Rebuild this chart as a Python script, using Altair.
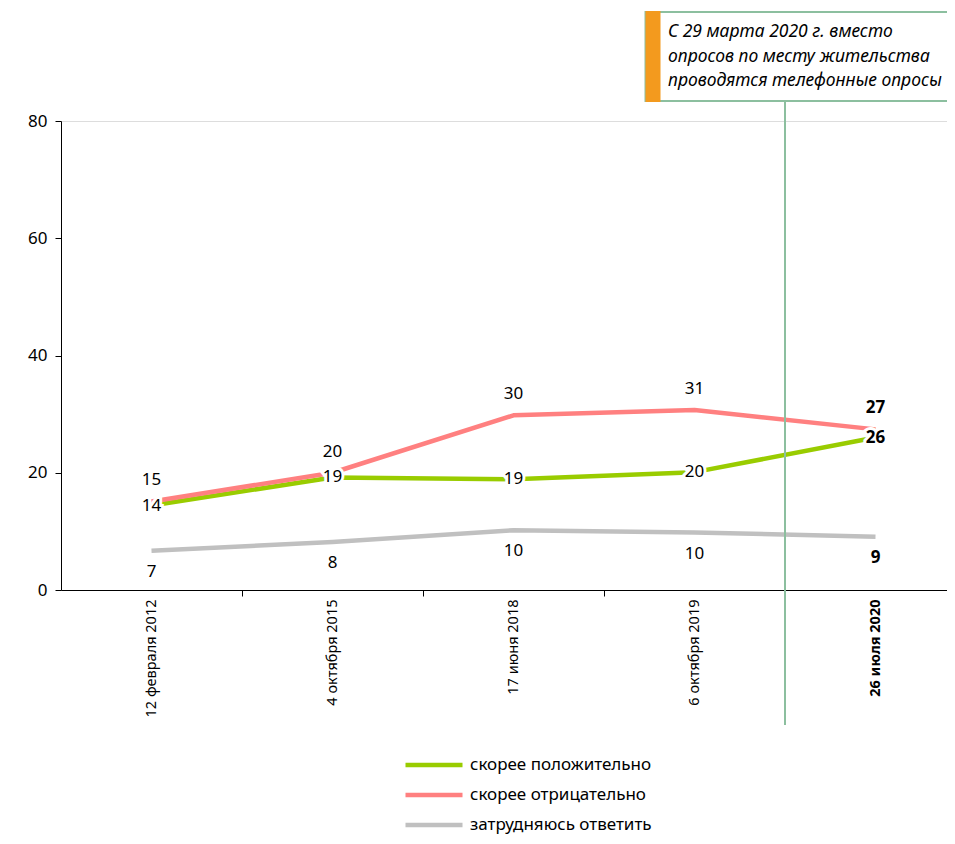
import json
import altair as alt
import pandas as pd

# ---- data ----
dates = ["12 февраля 2012", "4 октября 2015", "17 июня 2018", "6 октября 2019", "26 июля 2020"]
positive = [14.4, 19.2, 18.9, 20.1, 26.0]
negative = [15.1, 20.0, 29.8, 30.7, 27.4]
undecided = [6.7, 8.2, 10.2, 9.8, 9.1]
series_names = ["скорее положительно", "скорее отрицательно", "затрудняюсь ответить"]
series_colors = ["#99cc00", "#ff8080", "#c0c0c0"]
y_ticks = [0, 20, 40, 60, 80]
note_lines = ["С 29 марта 2020 г. вместо", "опросов по месту жительства", "проводятся телефонные опросы"]
note_after = 3.5  # method change falls between the 4th and 5th survey

rows = []
for s, vals in zip(series_names, [positive, negative, undecided]):
    for i, (d, v) in enumerate(zip(dates, vals)):
        rows.append({"series": s, "idx": i, "date": d, "value": v, "last": i == len(dates) - 1})
df = pd.DataFrame(rows)

FONT = "Noto Sans"
n = len(dates)
axis_vals = [i / 2 for i in range(2 * n - 1)]
label_expr = f"datum.value % 1 === 0 ? {json.dumps(dates, ensure_ascii=False)}[datum.value] : ''"

PLOT_W = 886
STEP = 181  # pixels per survey slot in the reference
x_enc = alt.X(
    "idx:Q",
    scale=alt.Scale(domain=[-0.5, -0.5 + PLOT_W / STEP], nice=False, zero=False),
    axis=alt.Axis(
        values=axis_vals,
        labelExpr=label_expr,
        labelAngle=270,
        labelFontSize=14.5,
        labelFont=FONT,
        labelColor="#000000",
        labelPadding=3,
        labelOverlap=False,
        labelBound=False,
        labelFlush=False,
        labelFontWeight={"condition": {"test": f"datum.value === {n - 1}", "value": "bold"}, "value": "normal"},
        tickOpacity={"condition": {"test": "datum.value % 1 !== 0", "value": 1}, "value": 0},
        tickSize=6,
        tickColor="#000000",
        domainColor="#000000",
        grid=False,
        title=None,
    ),
)
y_enc = alt.Y(
    "value:Q",
    scale=alt.Scale(domain=[0, 80], nice=False),
    axis=alt.Axis(
        values=y_ticks,
        grid=False,
        tickSize=6,
        tickColor="#000000",
        domainColor="#000000",
        labelFontSize=17,
        labelFont=FONT,
        labelColor="#000000",
        labelPadding=8,
        title=None,
    ),
)

base = alt.Chart(df).encode(x=x_enc, y=y_enc)

lines = base.mark_line(strokeWidth=4.5, strokeJoin="round").encode(
    color=alt.Color(
        "series:N",
        scale=alt.Scale(domain=series_names, range=series_colors),
        legend=alt.Legend(
            title=None,
            orient="none",
            legendX=361,
            legendY=632,
            symbolType="M-3,0H3",
            symbolSize=361,
            symbolStrokeWidth=4.5,
            labelFontSize=17,
            labelFont=FONT,
            labelColor="#000000",
            labelOffset=24,
            labelLimit=0,
            rowPadding=9,
        ),
    ),
)


def labels(series, dy, halo=False):
    out = []
    for last, weight in [(False, "normal"), (True, "bold")]:
        sub = base.transform_filter(
            (alt.datum.series == series) & (alt.datum.last == last)
        )
        if halo:
            out.append(
                sub.mark_text(
                    dy=dy, fontSize=17, font=FONT, fontWeight=weight,
                    stroke="white", strokeWidth=6, fill="white", baseline="middle",
                ).encode(text=alt.Text("value:Q", format=".0f"))
            )
        out.append(
            sub.mark_text(
                dy=dy, fontSize=17, font=FONT, fontWeight=weight, color="#000000", baseline="middle",
            ).encode(text=alt.Text("value:Q", format=".0f"))
        )
    return out


text_layers = []
text_layers += labels(series_names[1], -21)
text_layers += labels(series_names[2], 21)
text_layers += labels(series_names[0], 0, halo=True)

note_df = pd.DataFrame({"idx": [note_after], "text": ["\n".join(note_lines)]})
note_base = alt.Chart(note_df)

vline = note_base.mark_rule(color="#8cbf9f", strokeWidth=2).encode(
    x=alt.X("idx:Q"), y=alt.value(-20), y2=alt.value(604)
)
box = note_base.mark_rect(fill="white", stroke="#8cbf9f", strokeWidth=2).encode(
    x=alt.value(584.5), x2=alt.value(930), y=alt.value(-109), y2=alt.value(-20)
)
bar = note_base.mark_rect(fill="#f39a1e").encode(
    x=alt.value(584.5), x2=alt.value(599.5), y=alt.value(-110), y2=alt.value(-19)
)
note_text = note_base.mark_text(
    align="left", baseline="middle", lineBreak="\n", lineHeight=24.5,
    fontSize=17.5, font=FONT, fontStyle="italic", color="#000000",
).encode(x=alt.value(607), y=alt.value(-89), text="text:N")

chart = alt.layer(lines, *text_layers, vline, box, bar, note_text).properties(
    width=PLOT_W,
    height=469,
    autosize=alt.AutoSizeParams(type="none"),
    padding={"left": 53, "top": 113, "right": 0, "bottom": 246},
).configure_view(stroke=None).configure(background="white")

chart.save("out.html", embed_options={"renderer": "svg", "actions": False})
